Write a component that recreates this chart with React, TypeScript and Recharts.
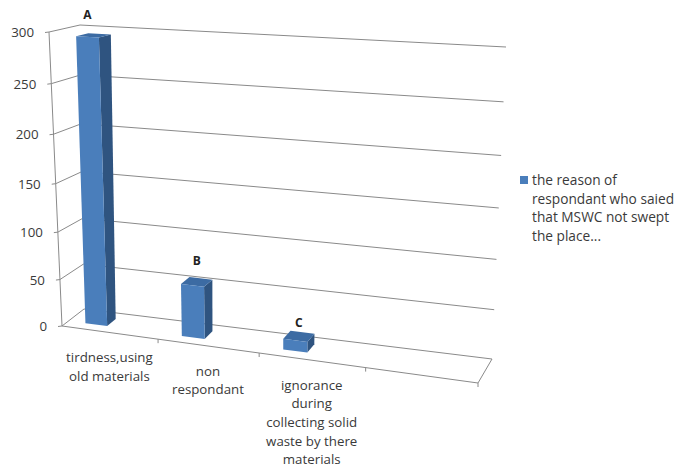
import { BarChart, Bar, XAxis, YAxis, CartesianGrid, Legend, LabelList } from 'recharts';

const categories = [
  'tirdness,using\nold materials',
  'non\nrespondant',
  'ignorance\nduring\ncollecting solid\nwaste by there\nmaterials',
  '',
];
const values = [295, 55, 11, null];
const marks = ['A', 'B', 'C', null];
const yTicks = [0, 50, 100, 150, 200, 250, 300];
const seriesName = 'the reason of\nrespondant who saied\nthat MSWC not swept\nthe place...';

const rows = categories.map((category, i) => ({ category, value: values[i], mark: marks[i] }));

// flat plot area that recharts lays out; everything is then pushed through project()
const LEFT = 100;
const TOP = 50;
const W = 400;
const H = 300;
const BOTTOM = TOP + H;

const FONT = '"Open Sans", sans-serif';
const FONT_SIZE = 13.3;
const TEXT = '#3a3a3a';
const LINE = '#8a8a8a';
const FRONT = '#4a7ebb';
const SIDE = '#2f5480';
const CAP = '#3c6ba3';

type Pt = [number, number];

const frontBox: Pt[] = [[62, 326], [478, 383], [49, 32], [486, 60]];
const backBox: Pt[] = [[84, 309], [492, 359], [80, 25], [506, 47]];

const ease = (t: number, a: number) => t / (a + (1 - a) * t);
const mix = (a: Pt, b: Pt, t: number): Pt => [a[0] + (b[0] - a[0]) * t, a[1] + (b[1] - a[1]) * t];

// u along the categories, v up the value axis, d from front (0) to back wall (1)
const project = (u: number, v: number, d: number): Pt => {
  const us = ease(u, 1.11);
  const vs = ease(v, 1.066);
  const plane = (box: Pt[]) => mix(mix(box[0], box[1], us), mix(box[2], box[3], us), vs);
  return mix(plane(frontBox), plane(backBox), d);
};

const toU = (x: number) => (x - LEFT) / W;
const toV = (y: number) => (BOTTOM - y) / H;

const seg = (a: Pt, b: Pt, key: string) => (
  <line key={key} x1={a[0]} y1={a[1]} x2={b[0]} y2={b[1]} stroke={LINE} strokeWidth={1} />
);

const poly = (pts: Pt[], fill: string) => (
  <polygon points={pts.map((p) => p.join(',')).join(' ')} fill={fill} />
);

const GridLine = (props: any) => {
  const v = toV(props.y1);
  const frontLeft = project(0, v, 0);
  const parts = [
    seg(project(0, v, 1), project(1, v, 1), 'wall'),
    seg(project(0, v, 1), frontLeft, 'side'),
    seg(frontLeft, [frontLeft[0] - 4, frontLeft[1] + 0.5], 'tick'),
  ];
  if (v < 0.001) {
    parts.push(
      seg(project(0, 0, 0), project(1, 0, 0), 'floor'),
      seg(project(1, 0, 0), project(1, 0, 1), 'edge'),
      seg(project(0, 0, 0), project(0, 1, 0), 'axis'),
    );
  }
  return <g key={props.key}>{parts}</g>;
};

const DEPTH_FROM = 0.3;
const DEPTH_TO = 0.7;
const BAR_SHIFT = -21;

const Column3D = (props: any) => {
  const { x, y, width, height } = props;
  if (!height) return null;
  const u0 = toU(x + BAR_SHIFT);
  const u1 = toU(x + BAR_SHIFT + width);
  const v = toV(y);
  const p = project;
  return (
    <g>
      {poly([p(u1, 0, DEPTH_FROM), p(u1, 0, DEPTH_TO), p(u1, v, DEPTH_TO), p(u1, v, DEPTH_FROM)], SIDE)}
      {poly([p(u0, v, DEPTH_FROM), p(u1, v, DEPTH_FROM), p(u1, v, DEPTH_TO), p(u0, v, DEPTH_TO)], CAP)}
      {poly([p(u0, 0, DEPTH_FROM), p(u1, 0, DEPTH_FROM), p(u1, v, DEPTH_FROM), p(u0, v, DEPTH_FROM)], FRONT)}
    </g>
  );
};

// the letters don't sit at a fixed distance above their columns
const markNudge: Record<string, Pt> = { A: [-6, -21], B: [0, -21], C: [0, -14] };

const MarkLabel = (props: any) => {
  const { x, y, width, value } = props;
  if (!value) return null;
  const [px, py] = project(toU(x + BAR_SHIFT + width / 2), toV(y), 0.5);
  const [dx, dy] = markNudge[value];
  return (
    <text x={px + dx} y={py + dy} textAnchor="middle" dominantBaseline="central"
      fontFamily={FONT} fontSize={12} fontWeight={700} fill="#222">
      {value}
    </text>
  );
};

const ValueTick = (props: any) => {
  const [px, py] = project(0, toV(props.y), 0);
  return (
    <text x={px - 15} y={py} textAnchor="end" dominantBaseline="central"
      fontFamily={FONT} fontSize={FONT_SIZE} fill={TEXT}>
      {props.payload.value}
    </text>
  );
};

const CategoryTick = (props: any) => {
  const { x, payload } = props;
  const band = W / categories.length;
  const [px, py] = project(toU(x), 0, 0);
  const edge = project(toU(x + band / 2), 0, 0);
  const lines = String(payload.value).split('\n').filter(Boolean);
  return (
    <g>
      {seg(edge, [edge[0], edge[1] + 4], 'mark')}
      {lines.map((line, i) => (
        <text key={i} x={px} y={py + 24.5 + i * 18.6} textAnchor="middle" dominantBaseline="central"
          fontFamily={FONT} fontSize={FONT_SIZE} fill={TEXT}>
          {line}
        </text>
      ))}
    </g>
  );
};

const LegendBlock = ({ payload }: any) => {
  const item = payload?.[0];
  if (!item) return null;
  return (
    <div style={{ display: 'flex', fontFamily: FONT, fontSize: 13.7, lineHeight: '18.7px', color: TEXT }}>
      <span style={{ width: 8, height: 8, background: item.color, margin: '5px 4px 0 0', flexShrink: 0 }} />
      <span style={{ whiteSpace: 'pre' }}>{item.value}</span>
    </div>
  );
};

export default function App() {
  return (
    <div style={{ position: 'absolute', left: 0, top: 0, width: 675, height: 468, background: '#fff' }}>
      <BarChart
        width={675}
        height={468}
        data={rows}
        margin={{ left: LEFT - 1, top: TOP, right: 675 - LEFT - W, bottom: 468 - BOTTOM - 1 }}
        barSize={23}
      >
        <CartesianGrid vertical={false} horizontal={GridLine} />
        <XAxis dataKey="category" height={1} interval={0} axisLine={false} tickLine={false} tick={CategoryTick} />
        <YAxis width={1} domain={[0, 300]} ticks={yTicks} interval={0} axisLine={false} tickLine={false} tick={ValueTick} />
        <Legend
          layout="vertical"
          align="center"
          verticalAlign="middle"
          content={LegendBlock}
          wrapperStyle={{ left: 520, top: 171, right: 'auto', bottom: 'auto', width: 155, margin: 0 }}
        />
        <Bar dataKey="value" name={seriesName} fill={FRONT} shape={Column3D} isAnimationActive={false}>
          <LabelList dataKey="mark" content={MarkLabel} />
        </Bar>
      </BarChart>
    </div>
  );
}
